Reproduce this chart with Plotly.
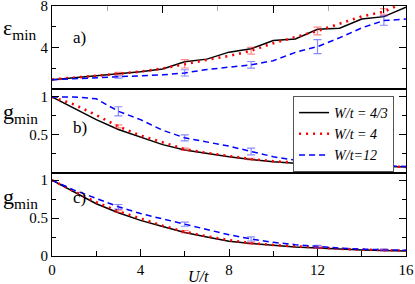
import plotly.graph_objects as go

# ---------------- data ----------------
U = list(range(0, 17))

# panel a) epsilon_min
eps_w43 = [0.92, 1.1, 1.3, 1.5, 1.7, 1.95, 2.65, 2.9, 3.57, 3.9, 4.68, 4.84, 5.77, 5.86, 6.75, 6.98, 7.88]
eps_w4 = [0.95, 1.1, 1.3, 1.5, 1.7, 2.0, 2.45, 2.83, 3.2, 3.7, 4.43, 5.05, 5.6, 6.3, 7.0, 7.45, 8.4]
eps_w12 = [0.92, 1.0, 1.1, 1.18, 1.3, 1.39, 1.58, 1.9, 2.15, 2.35, 2.75, 3.55, 4.1, 4.95, 5.9, 6.6, 6.75]

# panel b) g_min
gb_w43 = [1.0, 0.85, 0.70, 0.57, 0.47, 0.37, 0.30, 0.25, 0.21, 0.175, 0.145, 0.125, 0.11, 0.10, 0.09, 0.08, 0.075]
gb_w4 = [1.0, 0.90, 0.76, 0.61, 0.49, 0.40, 0.31, 0.26, 0.22, 0.18, 0.15, 0.13, 0.11, 0.10, 0.09, 0.08, 0.075]
gb_w12 = [1.0, 1.0, 0.975, 0.81, 0.70, 0.56, 0.46, 0.405, 0.35, 0.28, 0.21, 0.165, 0.13, 0.105, 0.095, 0.088, 0.083]

# panel c) g_min
gc_w43 = [1.0, 0.84, 0.69, 0.57, 0.47, 0.39, 0.31, 0.25, 0.195, 0.165, 0.14, 0.12, 0.105, 0.09, 0.08, 0.072, 0.067]
gc_w4 = [1.0, 0.85, 0.71, 0.59, 0.49, 0.40, 0.32, 0.26, 0.21, 0.17, 0.145, 0.125, 0.11, 0.095, 0.085, 0.077, 0.07]
gc_w12 = [1.0, 0.87, 0.76, 0.65, 0.56, 0.49, 0.42, 0.35, 0.28, 0.225, 0.18, 0.15, 0.125, 0.105, 0.09, 0.08, 0.075]

# error bars (at U = 3, 6, 9, 12, 15)
err_U = [3, 6, 9, 12, 15]
err_eps_w4 = [0.12, 0.4, 0.32, 0.37, 0.3]
err_eps_w12 = [0.1, 0.3, 0.32, 0.67, 0.45]
err_gb_w4 = [0.02, 0.015, 0.01, 0.01, 0.01]
err_gb_w12 = [0.06, 0.04, 0.045, 0.015, 0.01]
err_gc_w4 = [0.015, 0.015, 0.01, 0.01, 0.01]
err_gc_w12 = [0.03, 0.027, 0.027, 0.015, 0.01]

names = ["W/t = 4/3", "W/t = 4", "W/t=12"]
x_ticks = [0, 4, 8, 12, 16]

FONT = "Liberation Serif"
BLACK = "#000000"
RED = "#ff0000"
BLUE = "#0000ff"
RED_ERR = "rgba(255,40,40,0.55)"
BLUE_ERR = "rgba(40,40,255,0.55)"

styles = [
    dict(color=BLACK, width=1.5, dash="solid"),
    dict(color=RED, width=2.6, dash="2px,5px"),
    dict(color=BLUE, width=1.5, dash="6px,4px"),
]

fig = go.Figure()

panels = [
    ("x3", "y3", [eps_w43, eps_w4, eps_w12], [None, err_eps_w4, err_eps_w12], True),
    ("x2", "y2", [gb_w43, gb_w4, gb_w12], [None, err_gb_w4, err_gb_w12], False),
    ("x", "y", [gc_w43, gc_w4, gc_w12], [None, err_gc_w4, err_gc_w12], False),
]

for xa, ya, series, errs, legend in panels:
    for i, s in enumerate(series):
        fig.add_trace(go.Scatter(
            x=U, y=s, mode="lines", line=styles[i],
            name="<i>%s</i>" % names[i],
            showlegend=legend, legendrank=i + 1, xaxis=xa, yaxis=ya,
        ))
    for i, e in enumerate(errs):
        if e is None:
            continue
        s = series[i]
        ecol = RED_ERR if i == 1 else BLUE_ERR
        fig.add_trace(go.Scatter(
            x=err_U, y=[s[u] for u in err_U], mode="markers",
            marker=dict(size=1, color="rgba(0,0,0,0)"),
            error_y=dict(type="data", array=e, visible=True, color=ecol,
                         thickness=1.2, width=4),
            showlegend=False, hoverinfo="skip", xaxis=xa, yaxis=ya,
        ))

# invisible trace to host the top axis ticks of panel a
fig.add_trace(go.Scatter(x=[0, 16], y=[0, 0], mode="markers",
                         marker=dict(size=1, color="rgba(0,0,0,0)"),
                         showlegend=False, hoverinfo="skip",
                         xaxis="x4", yaxis="y3"))

axis_common = dict(showline=True, linecolor="black", linewidth=1.2,
                   showgrid=False, zeroline=False, ticklabeloverflow="allow",
                   tickfont=dict(family=FONT, size=15, color="black"))

fig.update_layout(
    template="none",
    width=415, height=284,
    margin=dict(l=52, r=9, t=6, b=28),
    paper_bgcolor="white", plot_bgcolor="white",
    font=dict(family=FONT, size=14, color="black"),
    xaxis=dict(domain=[0, 1], anchor="y", range=[0, 16], mirror=True,
               ticks="inside", ticklen=7, tickcolor="black",
               tickvals=x_ticks,
               minor=dict(tickvals=[2, 6, 10, 14], ticks="inside", ticklen=5, tickcolor="black"),
               **axis_common),
    xaxis2=dict(domain=[0, 1], anchor="y2", range=[0, 16], mirror=True,
                ticks="", showticklabels=False, matches="x", **axis_common),
    xaxis3=dict(domain=[0, 1], anchor="y3", range=[0, 16], mirror=True,
                ticks="", showticklabels=False, matches="x", **axis_common),
    xaxis4=dict(overlaying="x3", anchor="y3", side="top", range=[0, 16],
                showline=False, showgrid=False, zeroline=False,
                ticks="inside", ticklen=7, tickcolor="black",
                tickvals=[5, 10, 15], showticklabels=False,
                minor=dict(tickvals=[2.5, 7.5, 12.5], ticks="inside", ticklen=5, tickcolor="#aaaaaa")),
    yaxis=dict(domain=[0, 1 / 3], anchor="x", range=[0, 1.1], mirror="ticks",
               ticks="inside", ticklen=7, tickcolor="black",
               tickvals=[0, 0.5, 1], ticktext=["0", "0.5", "1"],
               minor=dict(tickvals=[0.25, 0.75], ticks="inside", ticklen=4, tickcolor="black"),
               **axis_common),
    yaxis2=dict(domain=[1 / 3, 2 / 3], anchor="x2", range=[0, 1.1], mirror="ticks",
                ticks="inside", ticklen=7, tickcolor="black",
                tickvals=[0.5, 1], ticktext=["0.5", "1"],
                minor=dict(tickvals=[0.25, 0.75], ticks="inside", ticklen=4, tickcolor="black"),
                **axis_common),
    yaxis3=dict(domain=[2 / 3, 1], anchor="x3", range=[0, 8], mirror="ticks",
                ticks="inside", ticklen=7, tickcolor="black",
                tickvals=[4, 8], ticktext=["4", "8"],
                minor=dict(tickvals=[2, 6], ticks="inside", ticklen=4, tickcolor="black"),
                **axis_common),
    legend=dict(x=0.681, y=0.64, xanchor="left", yanchor="top",
                bordercolor="#555555", borderwidth=1, bgcolor="white",
                font=dict(family=FONT, size=14, color="black"),
                itemwidth=30, tracegroupgap=0),
    showlegend=True,
)

ann_font = dict(family=FONT, size=17, color="black")
lab_font = dict(family=FONT, size=22, color="black")
annotations = [
    dict(text="a)", x=(71 - 52) / 354, y=1 - (26 - 6) / 250, xref="paper", yref="paper",
         showarrow=False, font=ann_font),
    dict(text="b)", x=(71 - 52) / 354, y=1 - (127 - 6) / 250, xref="paper", yref="paper",
         showarrow=False, font=ann_font),
    dict(text="c)", x=(71 - 52) / 354, y=1 - (209 - 6) / 250, xref="paper", yref="paper",
         showarrow=False, font=ann_font),
    dict(text="ε<sub>min</sub>", x=(1 - 52) / 354, y=1 - (29 - 6) / 250, xref="paper", yref="paper",
         xanchor="left", yanchor="middle", showarrow=False, font=lab_font),
    dict(text="g<sub>min</sub>", x=(1 - 52) / 354, y=1 - (113 - 6) / 250, xref="paper", yref="paper",
         xanchor="left", yanchor="middle", showarrow=False, font=lab_font),
    dict(text="g<sub>min</sub>", x=(1 - 52) / 354, y=1 - (198 - 6) / 250, xref="paper", yref="paper",
         xanchor="left", yanchor="middle", showarrow=False, font=lab_font),
    dict(text="<i>U/t</i>", x=(198 - 52) / 354, y=-(276 - 256) / 250, xref="paper", yref="paper",
         xanchor="center", yanchor="middle", showarrow=False, font=dict(family=FONT, size=16, color="black")),
]
fig.update_layout(annotations=annotations)

fig.write_html("out.html", config={"displayModeBar": False},
               post_script="document.body.style.margin='0';document.body.style.padding='0';")
